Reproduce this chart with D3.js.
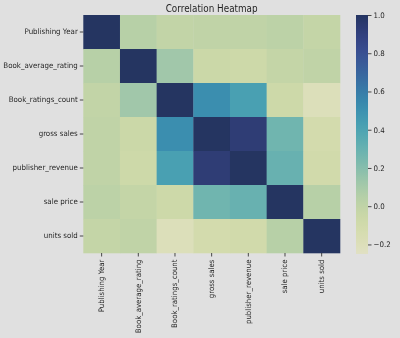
<!DOCTYPE html>
<html>
<head>
<meta charset="utf-8">
<script src="https://cdn.jsdelivr.net/npm/d3@7"></script>
<style>
  html, body { margin: 0; padding: 0; background: #fff; }
  svg { display: block; filter: contrast(0.76); font-family: "DejaVu Sans", sans-serif; }
</style>
</head>
<body>
<div id="chart"></div>
<script>
const columns = ["Publishing Year", "Book_average_rating", "Book_ratings_count",
  "gross sales", "publisher_revenue", "sale price", "units sold"];

// correlation matrix rows (symmetric)
const rowPublishingYear   = [1.00,  0.04, -0.01,  0.00,  0.00,  0.02, -0.02];
const rowAverageRating    = [0.04,  1.00,  0.12, -0.06, -0.07, -0.02,  0.00];
const rowRatingsCount     = [-0.01, 0.12,  1.00,  0.52,  0.42, -0.07, -0.20];
const rowGrossSales       = [0.00, -0.06,  0.52,  1.00,  0.93,  0.27, -0.12];
const rowPublisherRevenue = [0.00, -0.07,  0.42,  0.93,  1.00,  0.30, -0.10];
const rowSalePrice        = [0.02, -0.02, -0.07,  0.27,  0.30,  1.00,  0.04];
const rowUnitsSold        = [-0.02, 0.00, -0.20, -0.12, -0.10,  0.04,  1.00];
const matrix = [rowPublishingYear, rowAverageRating, rowRatingsCount, rowGrossSales,
  rowPublisherRevenue, rowSalePrice, rowUnitsSold];

const colorTicks = [-0.2, 0.0, 0.2, 0.4, 0.6, 0.8, 1.0];
const vmin = -0.25, vmax = 1.0;

const width = 400, height = 338;
const margin = { top: 15, left: 83.3, right: 340, bottom: 253 };
const fontSize = 7.6;

// squeeze text a little, the picture's glyphs are narrow
function squeeze(sel, k) {
  sel.each(function() {
    const w = this.getComputedTextLength();
    d3.select(this).attr("textLength", w * k).attr("lengthAdjust", "spacingAndGlyphs");
  });
}

const svg = d3.select("#chart").append("svg")
  .attr("width", width)
  .attr("height", height);

svg.append("rect").attr("width", width).attr("height", height).attr("fill", "#fff");

const x = d3.scaleBand().domain(columns).range([margin.left, margin.right]);
const y = d3.scaleBand().domain(columns).range([margin.top, margin.bottom]);
const color = d3.scaleSequential(d3.interpolateYlGnBu).domain([vmin, vmax]);

const cells = [];
matrix.forEach((row, i) => row.forEach((v, j) => cells.push({ r: columns[i], c: columns[j], v })));

svg.append("g")
  .selectAll("rect")
  .data(cells)
  .join("rect")
    .attr("x", d => x(d.c))
    .attr("y", d => y(d.r))
    .attr("width", x.bandwidth() + 0.3)
    .attr("height", y.bandwidth() + 0.3)
    .attr("fill", d => color(d.v));

const yAxis = svg.append("g")
  .attr("transform", `translate(${margin.left},0)`)
  .call(d3.axisLeft(y).tickSize(3.5).tickPadding(2));
yAxis.select(".domain").remove();

const xAxis = svg.append("g")
  .attr("transform", `translate(0,${margin.bottom})`)
  .call(d3.axisBottom(x).tickSize(3.5).tickPadding(2));
xAxis.select(".domain").remove();
xAxis.selectAll("text")
  .attr("transform", "rotate(-90)")
  .attr("text-anchor", "end")
  .attr("x", -6.5)
  .attr("y", 0)
  .attr("dy", "0.32em");

svg.selectAll(".tick line").attr("stroke", "#000").attr("stroke-width", 0.8);
svg.selectAll(".tick text").attr("fill", "#000").attr("font-size", fontSize).attr("font-family", "DejaVu Sans");
squeeze(yAxis.selectAll("text"), 0.93);
squeeze(xAxis.selectAll("text"), 0.92);

svg.append("text")
  .attr("x", (margin.left + margin.right) / 2)
  .attr("y", 11.5)
  .attr("text-anchor", "middle")
  .attr("font-size", 9.8)
  .attr("fill", "#000")
  .text("Correlation Heatmap")
  .call(squeeze, 0.9);

// colorbar
const cb = { x: 356, w: 12, top: 15, bottom: 254 };
const cy = d3.scaleLinear().domain([vmin, vmax]).range([cb.bottom, cb.top]);

const defs = svg.append("defs");
const grad = defs.append("linearGradient")
  .attr("id", "cbar").attr("x1", 0).attr("y1", 1).attr("x2", 0).attr("y2", 0);
d3.range(0, 1.0001, 0.05).forEach(t => {
  grad.append("stop").attr("offset", t).attr("stop-color", color(vmin + t * (vmax - vmin)));
});
svg.append("rect")
  .attr("x", cb.x).attr("y", cb.top)
  .attr("width", cb.w).attr("height", cb.bottom - cb.top)
  .attr("fill", "url(#cbar)");

const cAxis = svg.append("g")
  .attr("transform", `translate(${cb.x + cb.w},0)`)
  .call(d3.axisRight(cy).tickValues(colorTicks).tickSize(3.5).tickPadding(2)
    .tickFormat(d => d < 0 ? "\u2212" + Math.abs(d).toFixed(1) : d.toFixed(1)));
cAxis.select(".domain").remove();
cAxis.selectAll("line").attr("stroke", "#000").attr("stroke-width", 0.8);
cAxis.selectAll("text").attr("fill", "#000").attr("font-size", fontSize).attr("font-family", "DejaVu Sans")
  .call(squeeze, 0.93);
</script>
</body>
</html>
